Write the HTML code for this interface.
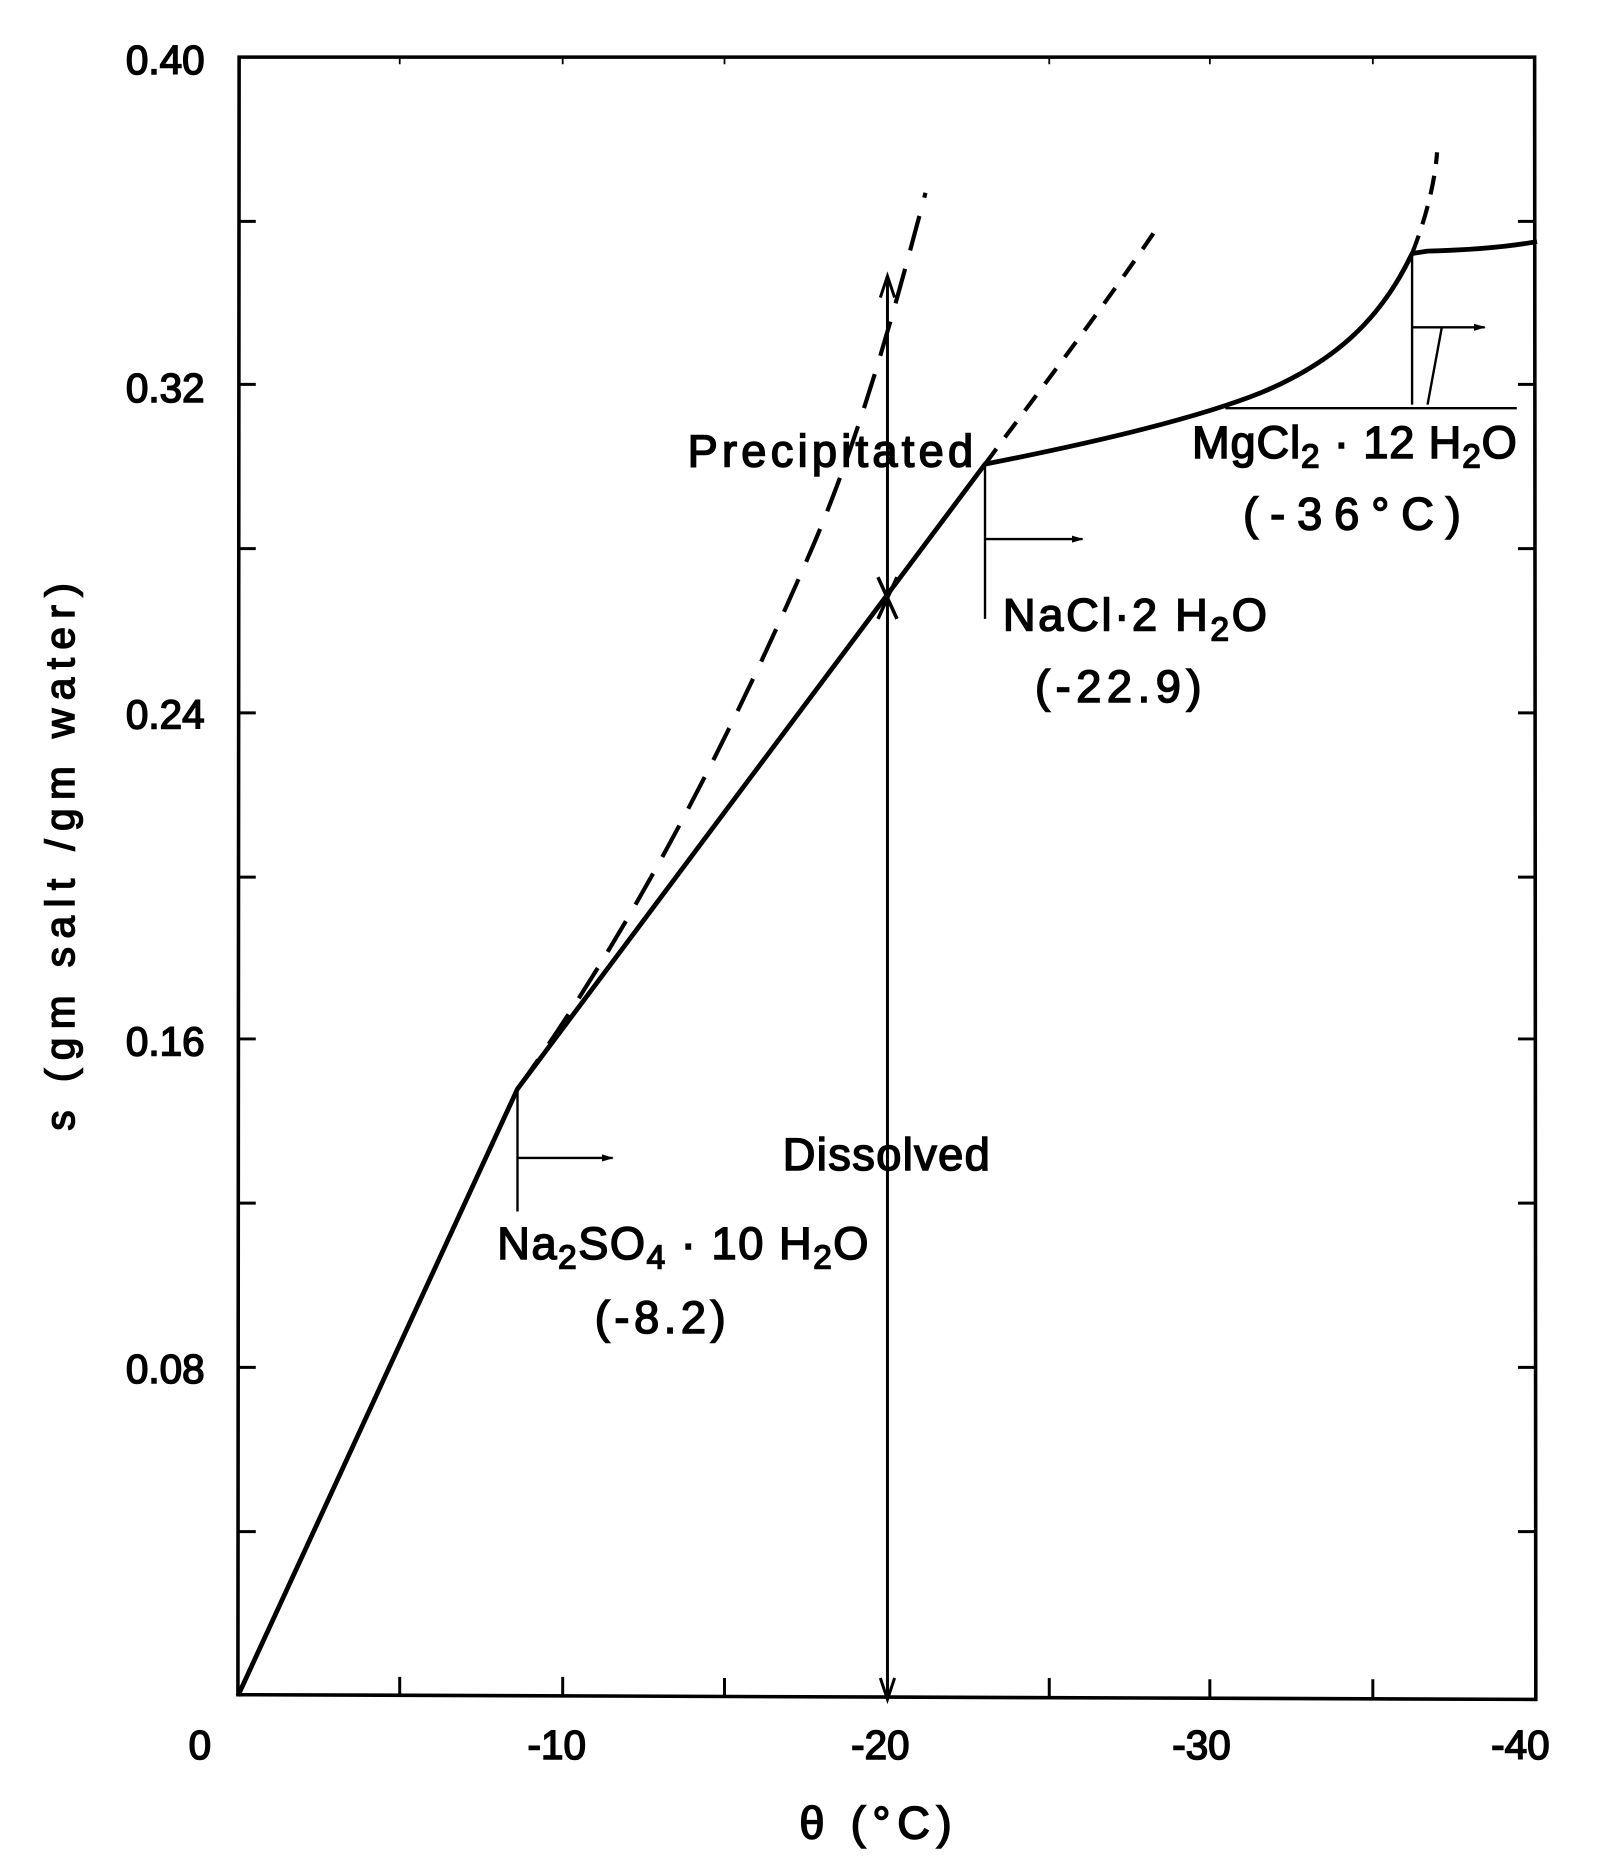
<!DOCTYPE html>
<html><head><style>html,body{margin:0;padding:0;background:#fff}svg{display:block}</style></head>
<body>
<svg width="1606" height="1872" viewBox="0 0 1350 1573" preserveAspectRatio="none" xmlns="http://www.w3.org/2000/svg">
<defs><marker id="ah" markerWidth="10" markerHeight="8" refX="9" refY="4" orient="auto" markerUnits="userSpaceOnUse"><path d="M0,1 L10,4 L0,7 Z" fill="#000"/></marker></defs>
<g fill="none" stroke="#000">
<path d="M201,48 L1290,48 L1291,1428 L200,1424 Z" stroke-width="3"/>
<g stroke-width="2.5">
<path d="M200,186h15M200,323h15M200,461h15M200,599h15M200,737h15M200,873h15M200,1011h15M200,1149h15M200,1287h15"/>
<path d="M1291,186h-15M1291,323h-15M1291,461h-15M1291,599h-15M1291,737h-15M1291,873h-15M1291,1011h-15M1291,1149h-15M1291,1287h-15"/>
<path d="M336,1425v-16M473,1425v-16M609,1426v-16M746,1426v-16M882,1426v-16M1017,1427v-16M1154,1427v-16"/>
<path d="M336,48v6M473,48v6M609,48v6M882,48v6M1017,48v6M1154,48v6" stroke-width="1.5"/>
</g>
<path d="M200,1425 L435,915 L828,390 C930,370 1010,350 1060,330 C1120,305 1160,270 1187,213 L1200,211 C1240,210 1270,207 1292,203" stroke-width="4" stroke-linejoin="round"/>
<path d="M435,915 C525,790 610,630 685,455 C725,360 752,260 778,162" stroke-width="3.5" stroke-dasharray="30,16"/>
<path d="M828,390 C880,320 930,255 975,188" stroke-width="3.5" stroke-dasharray="16,12"/>
<path d="M1187,213 C1198,185 1206,155 1208,128" stroke-width="3.5" stroke-dasharray="16,10"/>
<path d="M746,1425 L746,235" stroke-width="2.5"/>
<path d="M740,250 L746,232 L752,250 M740,1410 L746,1428 L752,1410" stroke-width="2.5"/>
<path d="M738,485 L754,520 M754,485 L738,520" stroke-width="3"/>
<g stroke-width="2">
<path d="M435,915 V1018 M828,390 V520 M1187,213 V340"/>
<path d="M435,973 H515" marker-end="url(#ah)"/>
<path d="M828,453 H910" marker-end="url(#ah)"/>
<path d="M1187,275 H1248" marker-end="url(#ah)"/>
<path d="M1200,340 L1212,275 M1030,343 H1275"/>
</g>
</g>
<g font-family="Liberation Sans, sans-serif" font-size="34" fill="#000" stroke="#000" stroke-width="1.3">
<g text-anchor="end">
<text x="172" y="62">0.40</text><text x="172" y="338">0.32</text><text x="172" y="612">0.24</text><text x="172" y="887">0.16</text><text x="172" y="1162">0.08</text>
</g>
<g text-anchor="middle">
<text x="168" y="1478">0</text><text x="468" y="1478">-10</text><text x="740" y="1478">-20</text><text x="1010" y="1478">-30</text><text x="1278" y="1478">-40</text>
</g>
<g font-size="38">
<text x="672" y="1545" textLength="128" lengthAdjust="spacing">θ (°C)</text>
<text x="500" y="1120" textLength="110" lengthAdjust="spacing">(-8.2)</text>
<text x="870" y="590" textLength="140" lengthAdjust="spacing">(-22.9)</text>
<text x="1045" y="445" textLength="183" lengthAdjust="spacing">(-36°C)</text>
<text x="578" y="392" textLength="240" lengthAdjust="spacing">Precipitated</text>
<text x="658" y="983" textLength="174" lengthAdjust="spacing">Dissolved</text>
<text x="418" y="1058" textLength="312" lengthAdjust="spacing">Na<tspan font-size="28" dy="8">2</tspan><tspan dy="-8">SO</tspan><tspan font-size="28" dy="8">4</tspan><tspan dy="-8"> · 10 H</tspan><tspan font-size="28" dy="8">2</tspan><tspan dy="-8">O</tspan></text>
<text x="843" y="530" textLength="222" lengthAdjust="spacing">NaCl·2 H<tspan font-size="28" dy="8">2</tspan><tspan dy="-8">O</tspan></text>
<text x="1002" y="385" textLength="273" lengthAdjust="spacing">MgCl<tspan font-size="28" dy="8">2</tspan><tspan dy="-8"> · 12 H</tspan><tspan font-size="28" dy="8">2</tspan><tspan dy="-8">O</tspan></text>
<text transform="translate(62,720) rotate(-90)" x="-230" y="0" font-size="34" textLength="460" lengthAdjust="spacing">s (gm salt /gm water)</text>
</g>
</g>
</svg>
</body></html>
